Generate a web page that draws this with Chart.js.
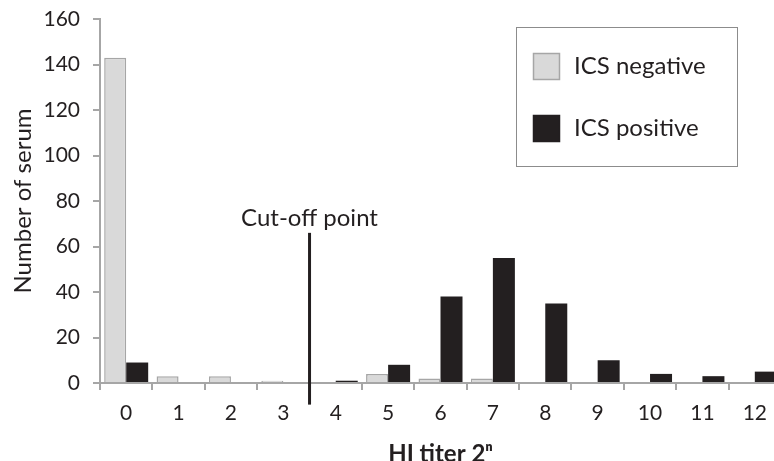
<!DOCTYPE html>
<html lang="en">
<head>
    <meta charset="UTF-8">
    <title>HI titer distribution</title>
    <script src="https://cdn.jsdelivr.net/npm/chart.js"></script>
    <style>
        html, body {
            margin: 0;
            padding: 0;
            background: #ffffff;
            overflow: hidden;
        }
        #wrap {
            width: 781px;
            height: 461px;
        }
    </style>
</head>
<body>
    <div id="wrap"><canvas id="chart"></canvas></div>

    <script>
        // data
        var titers = ['0', '1', '2', '3', '4', '5', '6', '7', '8', '9', '10', '11', '12'];
        var icsNegative = [143, 3, 3, 1, 0, 4, 2, 2, 0, 0, 0, 0, 0];
        var icsPositive = [9, 0, 0, 0, 1, 8, 38, 55, 35, 10, 4, 3, 5];
        var yTicks = [0, 20, 40, 60, 80, 100, 120, 140, 160];

        // cut-off marker, in axis units
        var cutoffAt = 3.5;
        var cutoffTop = 66;
        var cutoffBottom = -9.5;
        var cutoffLabel = 'Cut-off point';

        var ink = '#231f20';
        var axisGrey = '#a6a6a6';
        var fontFamily = 'Lato, "Open Sans", sans-serif';

        // draws the vertical cut-off line and its label
        var cutoffPlugin = {
            id: 'cutoff',
            afterDatasetsDraw: function(chart) {
                var ctx = chart.ctx;
                var x = chart.scales.x.getPixelForValue(cutoffAt);
                var yTop = chart.scales.y.getPixelForValue(cutoffTop);
                var yBottom = chart.scales.y.getPixelForValue(cutoffBottom);
                ctx.save();
                ctx.strokeStyle = ink;
                ctx.lineWidth = 3;
                ctx.beginPath();
                ctx.moveTo(x, yTop);
                ctx.lineTo(x, yBottom);
                ctx.stroke();
                ctx.fillStyle = ink;
                ctx.font = '24px ' + fontFamily;
                ctx.textAlign = 'center';
                ctx.textBaseline = 'middle';
                ctx.fillText(cutoffLabel, x, yTop - 15);
                ctx.restore();
            }
        };

        // boxed legend like the original figure
        var boxLegendPlugin = {
            id: 'boxLegend',
            afterDraw: function(chart) {
                var ctx = chart.ctx;
                var left = 516, top = 27, w = 221, h = 139;
                ctx.save();
                ctx.strokeStyle = '#8c8c8c';
                ctx.lineWidth = 1;
                ctx.strokeRect(left + 0.5, top + 0.5, w, h);
                ctx.font = '24px ' + fontFamily;
                ctx.textBaseline = 'middle';
                chart.data.datasets.forEach(function(ds, i) {
                    var cy = top + 39 + i * 62;
                    ctx.fillStyle = ds.backgroundColor;
                    ctx.fillRect(533, cy - 13, 27, 27);
                    ctx.strokeStyle = ds.borderColor;
                    ctx.lineWidth = 1.5;
                    ctx.strokeRect(533.5, cy - 12.5, 26, 26);
                    ctx.fillStyle = ink;
                    ctx.fillText(ds.label, 574, cy);
                });
                ctx.restore();
            }
        };

        new Chart(document.getElementById('chart'), {
            type: 'bar',
            data: {
                labels: titers,
                datasets: [{
                    label: 'ICS negative',
                    data: icsNegative,
                    backgroundColor: '#d9d9d9',
                    borderColor: '#a6a6a6',
                    borderWidth: 1.5,
                    borderSkipped: 'bottom'
                }, {
                    label: 'ICS positive',
                    data: icsPositive,
                    backgroundColor: ink,
                    borderColor: ink,
                    borderWidth: 0
                }]
            },
            options: {
                responsive: true,
                maintainAspectRatio: false,
                animation: false,
                layout: { padding: { top: 19, right: 0, left: 0, bottom: 0 } },
                datasets: {
                    bar: { categoryPercentage: 0.84, barPercentage: 1.0 }
                },
                plugins: {
                    legend: { display: false },
                    tooltip: { enabled: false }
                },
                scales: {
                    x: {
                        grid: {
                            offset: true,
                            drawOnChartArea: false,
                            drawTicks: true,
                            tickLength: 7,
                            color: axisGrey,
                            lineWidth: 2
                        },
                        border: { color: axisGrey, width: 2 },
                        ticks: {
                            color: ink,
                            padding: 11,
                            font: { family: fontFamily, size: 21 }
                        },
                        title: {
                            display: true,
                            text: 'HI titer 2ⁿ',
                            color: ink,
                            padding: { top: 0, bottom: -8 },
                            font: { family: fontFamily, size: 24, weight: 'bold' }
                        },
                        afterFit: function(scale) {
                            scale.height = 78;
                            scale.paddingLeft = 0;
                            scale.paddingRight = 0;
                        }
                    },
                    y: {
                        min: 0,
                        max: 160,
                        afterBuildTicks: function(scale) {
                            scale.ticks = yTicks.map(function(v) { return { value: v }; });
                        },
                        grid: {
                            drawOnChartArea: false,
                            drawTicks: true,
                            tickLength: 7,
                            color: axisGrey,
                            lineWidth: 2
                        },
                        border: { color: axisGrey, width: 2 },
                        ticks: {
                            color: ink,
                            padding: 13,
                            font: { family: fontFamily, size: 21 }
                        },
                        title: {
                            display: true,
                            text: 'Number of serum',
                            color: ink,
                            padding: { top: 9, bottom: 0 },
                            font: { family: fontFamily, size: 24 }
                        },
                        afterFit: function(scale) {
                            scale.width = 100;
                            scale.paddingTop = 0;
                            scale.paddingBottom = 0;
                        }
                    }
                }
            },
            plugins: [cutoffPlugin, boxLegendPlugin]
        });
    </script>
</body>
</html>
